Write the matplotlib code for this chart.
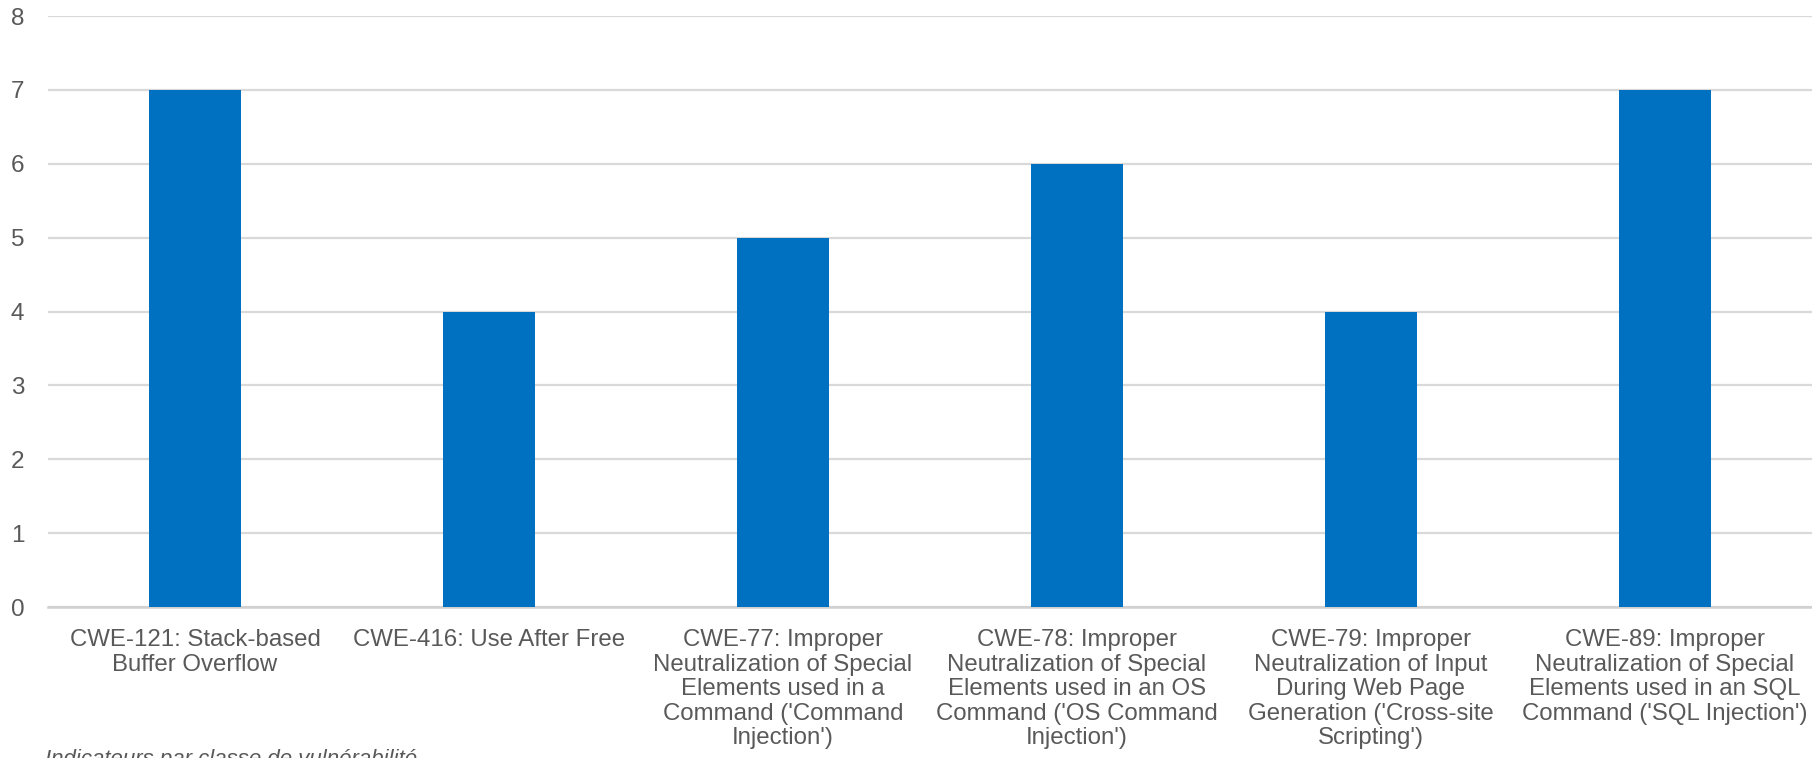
import matplotlib
matplotlib.use("Agg")
import matplotlib.pyplot as plt
import numpy as np

plt.rcParams['font.family'] = ['Liberation Sans', 'DejaVu Sans']

categories = [
    "CWE-121: Stack-based\nBuffer Overflow",
    "CWE-416: Use After Free",
    "CWE-77: Improper\nNeutralization of Special\nElements used in a\nCommand ('Command\nInjection')",
    "CWE-78: Improper\nNeutralization of Special\nElements used in an OS\nCommand ('OS Command\nInjection')",
    "CWE-79: Improper\nNeutralization of Input\nDuring Web Page\nGeneration ('Cross-site\nScripting')",
    "CWE-89: Improper\nNeutralization of Special\nElements used in an SQL\nCommand ('SQL Injection')",
]
counts = [7, 4, 5, 6, 4, 7]
y_ticks = [0, 1, 2, 3, 4, 5, 6, 7, 8]
footnote = "Indicateurs par classe de vulnérabilité"

W, H = 1812, 758
fig = plt.figure(figsize=(W / 100, H / 100), dpi=100)
ax = fig.add_axes([48 / W, 1 - 607 / H, (W - 48) / W, (607 - 16) / H])

text_color = "#595959"
x = np.arange(len(categories))
ax.bar(x, counts, width=0.315, color="#0070C0", zorder=3)

ax.set_xlim(-0.5, len(categories) - 0.5)
ax.set_ylim(0, 8)
ax.set_yticks(y_ticks)
ax.set_yticklabels([str(v) for v in y_ticks])
ax.yaxis.grid(True, color="#D9D9D9", linewidth=1.6, zorder=0)
ax.set_axisbelow(True)

for side in ["top", "right", "left"]:
    ax.spines[side].set_visible(False)
ax.spines["bottom"].set_color("#D0D0D0")
ax.spines["bottom"].set_linewidth(1.8)

ax.set_xticks(x)
ax.set_xticklabels(categories, fontsize=17.3, color=text_color,
                   linespacing=1.15, va="top", ha="center")
ax.tick_params(axis="x", length=0, pad=16)
ax.tick_params(axis="y", length=0, pad=22, labelsize=17.5, labelcolor=text_color)
for lbl in ax.get_yticklabels():
    lbl.set_horizontalalignment("center")

fig.text(45 / W, 1 - 749 / H, footnote, fontsize=16, style="italic",
         color=text_color, ha="left", va="top")

fig.savefig("out.png", dpi=100)
